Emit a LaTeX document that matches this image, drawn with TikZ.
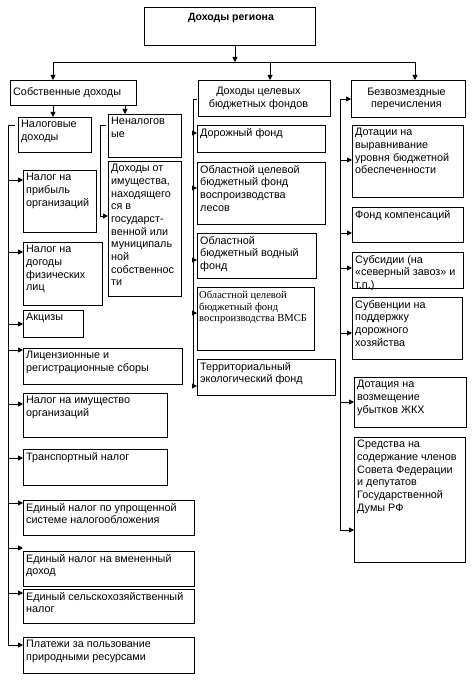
\documentclass[tikz,border=0pt]{standalone}
\usepackage{fontspec}
\setmainfont{Liberation Sans}
\newfontfamily\serifru{Liberation Serif}
\usetikzlibrary{arrows.meta}
\newcommand\rbox[6]{%
  \node[box, minimum width={#4-#2}, minimum height={#5-#3}] (#1) at (#2,#3) {};
  \node[txt] (#1t) at ([shift={(3,3)}]#1.north west) {#6};}
\newcommand\rtap[3]{%
  \path (#2.west |- 0,#3) coordinate (#2a);
  \draw[arr] (#1 |- #2a) -- (#2a);}
\begin{document}
\begin{tikzpicture}[x=1pt,y=-1pt,
  box/.style={draw, line width=0.9pt, inner sep=0pt, anchor=north west},
  txt/.style={inner sep=0pt, anchor=north west, align=left, font=\fontsize{10.8}{12.7}\selectfont},
  ctxt/.style={inner sep=0pt, align=center, font=\fontsize{10.8}{12.7}\selectfont},
  arr/.style={line width=0.9pt, -{Triangle[length=5pt,width=5pt]}},
  ln/.style={line width=0.9pt}]
\useasboundingbox (0,0) rectangle (471,687);
% top level
\node[box, minimum width=171, minimum height=38] (top) at (144,7) {};
\node[inner sep=0pt, anchor=north, font=\fontsize{10.5}{12}\selectfont\bfseries] (topt) at ([shift={(1,6)}]top.north) {Доходы региона};
\node[box, minimum width=126, minimum height=25] (own) at (10,80) {};
\node[inner sep=0pt, anchor=west, font=\fontsize{10.8}{12.7}\selectfont] (ownt) at ([shift={(3,0)}]own.west) {Собственные доходы};
\node[box, minimum width=132, minimum height=36] (tgt) at (198,80) {};
\node[ctxt] (tgtt) at ([shift={(-6,0)}]tgt.center) {Доходы целевых\\бюджетных фондов};
\node[box, minimum width=114, minimum height=37] (bez) at (351,80) {};
\node[ctxt] (bezt) at ([shift={(-2,0)}]bez.center) {Безвозмездные\\перечисления};
% hub
\coordinate (hub) at (235,62);
\coordinate (hL) at (53,62);
\coordinate (hM) at (270,62);
\coordinate (hR) at (415,62);
\draw[arr] (top.south -| hub) -- (hub);
\draw[ln] (hL) -- (hR);
\draw[arr] (hL) -- (hL |- own.north);
\draw[arr] (hM) -- (hM |- tgt.north);
\draw[arr] (hR) -- (hR |- bez.north);
% own income
\rbox{tax}{18}{117}{91}{152}{Налоговые\\доходы}
\rbox{ntx}{108}{114}{181}{157}{Неналогов\\ые}
\coordinate (oA) at (53,105);
\coordinate (oB) at (125,105);
\draw[arr] (oA) -- (oA |- tax.north);
\draw[arr] (oB) -- (oB |- ntx.north);
\rbox{imu}{108}{161}{181}{296}{Доходы от\\имущества,\\находящего\\ся в\\государст-\\венной или\\муниципаль\\ной\\собственнос\\ти}
\coordinate (nTop) at (106,125);
\coordinate (nBus) at (100,216);
\draw[ln] (nTop) -- (nTop -| nBus) -- (nBus);
\rtap{nBus}{imu}{216}
% tax items
\rbox{ta}{23}{170}{96}{232}{Налог на\\прибыль\\организаций}
\rbox{tb}{23}{242}{102}{305}{Налог на\\догоды\\физических\\лиц}
\rbox{tc}{23}{310}{83}{337}{Акцизы}
\rbox{td}{23}{348}{182}{384}{Лицензионные и\\регистрационные сборы}
\rbox{te}{23}{393}{167}{437}{Налог на имущество\\организаций}
\rbox{tf}{23}{449}{167}{485}{Транспортный налог}
\rbox{tg}{23}{500}{194}{535}{Единый налог по упрощенной\\системе налогообложения}
\rbox{th}{23}{551}{194}{586}{Единый налог на вмененный\\доход}
\rbox{ti}{23}{589}{194}{623}{Единый сельскохозяйственный\\налог}
\rbox{tj}{23}{637}{194}{673}{Платежи за пользование\\природными ресурсами}
\coordinate (lTop) at (15,125);
\coordinate (lBus) at (8,645);
\draw[ln] (lTop) -- (lTop -| lBus) -- (lBus);
\rtap{lBus}{ta}{180}
\rtap{lBus}{tb}{252}
\rtap{lBus}{tc}{324}
\rtap{lBus}{td}{350}
\rtap{lBus}{te}{404}
\rtap{lBus}{tf}{458}
\rtap{lBus}{tg}{503}
\rtap{lBus}{th}{548}
\rtap{lBus}{ti}{593}
\rtap{lBus}{tj}{645}
% target funds
\rbox{ma}{197}{125}{325}{152}{Дорожный фонд}
\rbox{mb}{197}{162}{325}{224}{Областной целевой\\бюджетный фонд\\воспроизводства\\лесов}
\rbox{mc}{197}{233}{316}{278}{Областной\\бюджетный водный\\фонд}
\node[box, minimum width=117, minimum height=63] (md) at (197,287) {};
\node[txt, font=\fontsize{10.6}{11.3}\selectfont\serifru] (mdt) at ([shift={(2,4)}]md.north west) {Областной целевой\\бюджетный фонд\\воспроизводства ВМСБ};
\rbox{me}{197}{359}{335}{395}{Территориальный\\экологический фонд}
\coordinate (mTop) at (197,99);
\coordinate (mBus) at (193,386);
\draw[ln] (mTop) -- (mTop -| mBus) -- (mBus);
\rtap{mBus}{ma}{133}
\rtap{mBus}{mb}{188}
\rtap{mBus}{mc}{260}
\rtap{mBus}{md}{313}
\rtap{mBus}{me}{386}
% transfers
\rbox{ra}{352}{125}{463}{197}{Дотации на\\выравнивание\\уровня бюджетной\\обеспеченности}
\rbox{rb}{352}{207}{463}{242}{Фонд компенсаций}
\rbox{rc}{352}{252}{463}{288}{Субсидии (на\\«северный завоз» и\\т.п.)}
\rbox{rd}{352}{297}{462}{359}{Субвенции на\\поддержку\\дорожного\\хозяйства}
\rbox{re}{354}{377}{466}{427}{Дотация на\\возмещение\\убытков ЖКХ}
\rbox{rf}{354}{437}{465}{562}{Средства на\\содержание членов\\Совета Федерации\\и депутатов\\Государственной\\Думы РФ}
\coordinate (rTop) at (340,99);
\coordinate (rBus) at (340,530);
\draw[ln] (rTop) -- (rBus);
\rtap{rTop}{bez}{99}
\rtap{rBus}{ra}{160}
\rtap{rBus}{rb}{233}
\rtap{rBus}{rc}{268}
\rtap{rBus}{rd}{333}
\rtap{rBus}{re}{402}
\rtap{rBus}{rf}{530}
\end{tikzpicture}
\end{document}
